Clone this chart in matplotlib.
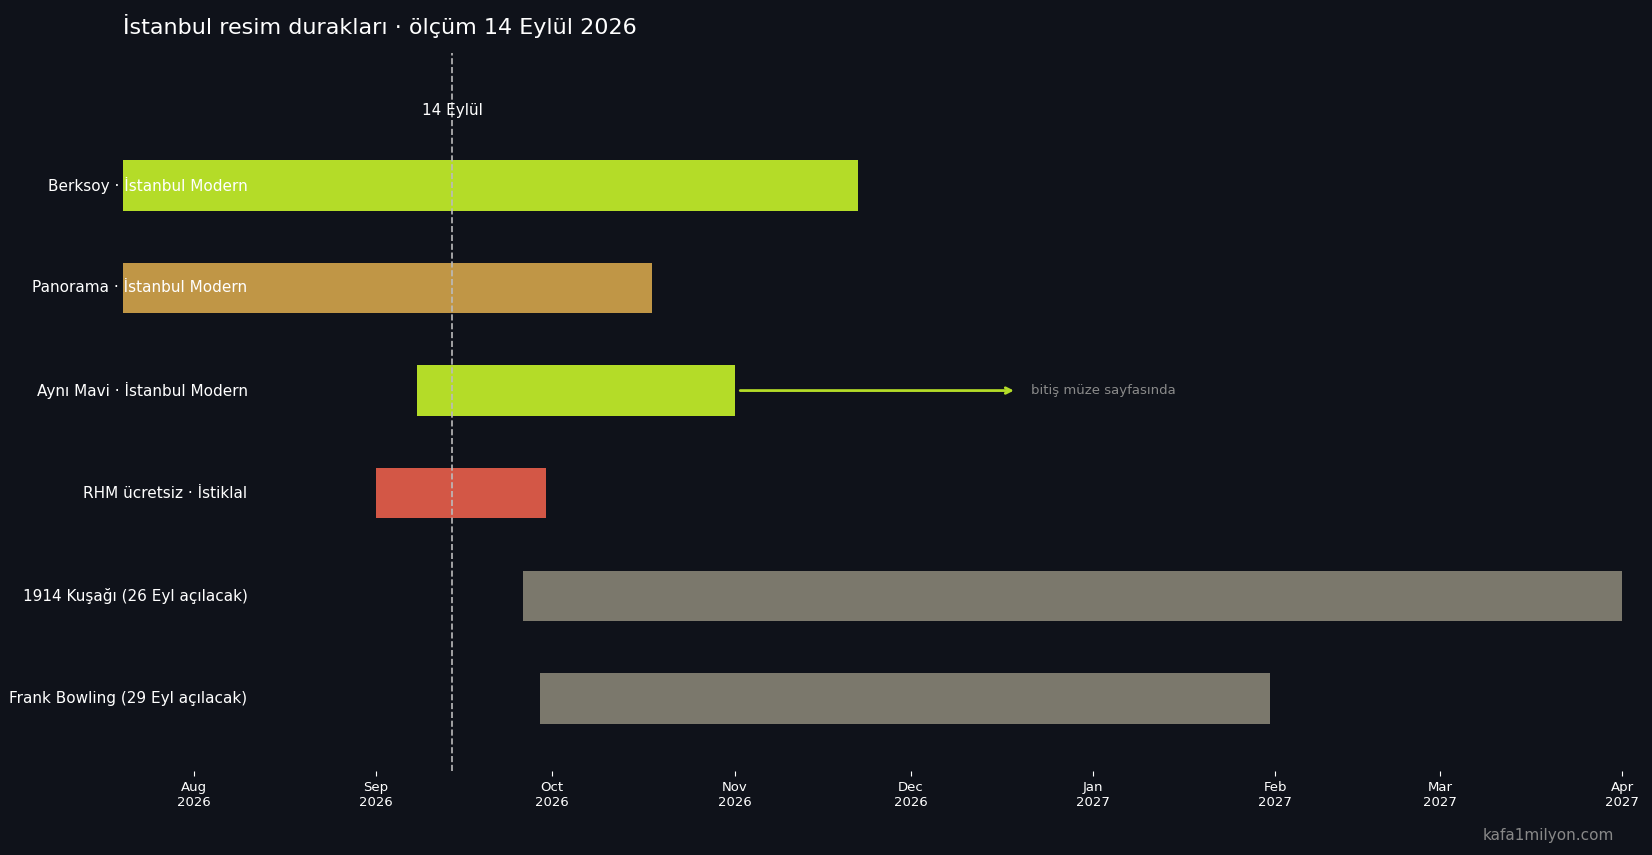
import matplotlib
matplotlib.use("Agg")
import matplotlib.pyplot as plt
import matplotlib.dates as mdates
from datetime import date

labels = ["Berksoy · İstanbul Modern", "Panorama · İstanbul Modern", "Aynı Mavi · İstanbul Modern",
          "RHM ücretsiz · İstiklal", "1914 Kuşağı (26 Eyl açılacak)", "Frank Bowling (29 Eyl açılacak)"]
starts = [date(2026,7,20), date(2026,7,20), date(2026,9,8), date(2026,9,1), date(2026,9,26), date(2026,9,29)]
ends = [date(2026,11,22), date(2026,10,18), date(2026,11,1), date(2026,9,30), date(2027,4,1), date(2027,1,31)]
colors = ["#b4dc28", "#c09646", "#b4dc28", "#d35746", "#7b786c", "#7b786c"]
today = date(2026,9,14)
arrow_end = date(2026,12,19)

BG = "#0f121a"
fig = plt.figure(figsize=(16.52, 8.55), dpi=100, facecolor=BG)
ax = fig.add_axes([0.0745, 0.098, 0.9075, 0.84], facecolor=BG)

for i, (s, e, c) in enumerate(zip(starts, ends, colors)):
    sn, en = mdates.date2num(s), mdates.date2num(e)
    ax.barh(i, en - sn, left=sn, height=0.49, color=c)
    ax.text(0.083, i, labels[i], transform=ax.get_yaxis_transform(), ha="right", va="center",
            color="white", fontsize=11)

ax.annotate("", xy=(mdates.date2num(arrow_end), 2), xytext=(mdates.date2num(ends[2]) + 0.5, 2),
            arrowprops=dict(arrowstyle="->", color="#b4dc28", lw=2))
ax.text(mdates.date2num(arrow_end) + 2.5, 2, "bitiş müze sayfasında", color="#8a8a8a", fontsize=9.5, va="center")

tn = mdates.date2num(today)
ax.axvline(tn, color="#bbbbbb", ls="--", lw=1.2)
ax.text(tn, -0.73, "14 Eylül", color="white", ha="center", va="center", fontsize=11)

ax.set_xlim(mdates.date2num(date(2026,7,20)), mdates.date2num(date(2027,4,1)))
ax.set_ylim(5.71, -1.29)
ax.set_yticks([])
ax.xaxis.set_major_locator(mdates.MonthLocator())
ax.xaxis.set_major_formatter(mdates.DateFormatter("%b\n%Y"))
ax.tick_params(axis="x", colors="white", labelsize=9.5)
for sp in ax.spines.values():
    sp.set_visible(False)

fig.text(0.0745, 0.97, "İstanbul resim durakları · ölçüm 14 Eylül 2026", color="white", fontsize=16, va="center")
fig.text(0.977, 0.023, "kafa1milyon.com", color="#888888", fontsize=11, ha="right", va="center")
fig.savefig("out.png", facecolor=BG)
